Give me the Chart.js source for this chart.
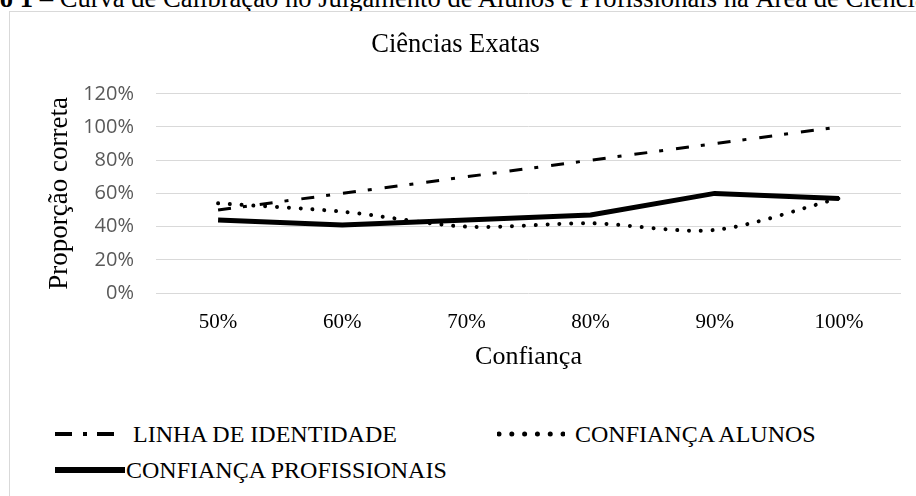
<!DOCTYPE html>
<html lang="pt">
<head>
    <meta charset="UTF-8">
    <title>Ciências Exatas</title>
    <script src="https://cdn.jsdelivr.net/npm/chart.js"></script>
    <style>
        html, body { margin: 0; padding: 0; background: #fff; width: 916px; height: 496px; overflow: hidden; }
        #caption {
            position: absolute; left: -74px; top: -15px; white-space: nowrap;
            font-family: "Liberation Serif", serif; font-size: 26.6px; line-height: 27px; color: #000;
        }
        #frame {
            position: absolute; left: 9px; top: 11px; width: 930px; height: 500px;
            border: 1px solid #d9d9d9; background: #fff;
        }
        #chart { position: absolute; left: 0; top: 0; }
        .legend-item {
            position: absolute; display: flex; align-items: center; white-space: nowrap;
            font-family: "Liberation Serif", serif; font-size: 24px; color: #000;
        }
        .legend-item svg { display: block; }
    </style>
</head>
<body>
    <div id="caption"><b>Gráfico 1</b> – Curva de Calibração no Julgamento de Alunos e Profissionais na Área de Ciências Exatas</div>
    <div id="frame">
        <canvas id="chart" width="906" height="370"></canvas>
        <div id="legend"></div>
    </div>

    <script>
        // chart values
        const confianca = ['50%', '60%', '70%', '80%', '90%', '100%'];
        const linhaIdentidade = [50, 60, 70, 80, 90, 100];
        const confiancaAlunos = [54, 49, 40, 42, 38, 57];
        const confiancaProfissionais = [44, 41, 44, 47, 60, 57];
        const yTicks = [0, 20, 40, 60, 80, 100, 120];

        const datasets = [
            {
                label: 'LINHA DE IDENTIDADE',
                data: linhaIdentidade,
                borderColor: '#000',
                borderWidth: 3,
                borderDash: [13, 12, 4, 13],
                pointRadius: 0,
                tension: 0
            },
            {
                label: 'CONFIANÇA ALUNOS',
                data: confiancaAlunos,
                borderColor: '#000',
                borderWidth: 4,
                borderDash: [0.01, 11.8],
                borderCapStyle: 'round',
                pointRadius: 0,
                tension: 0.3
            },
            {
                label: 'CONFIANÇA PROFISSIONAIS',
                data: confiancaProfissionais,
                borderColor: '#000',
                borderWidth: 5,
                borderJoinStyle: 'round',
                pointRadius: 0,
                tension: 0
            }
        ];

        const serif = 'Liberation Serif';

        const chart = new Chart(document.getElementById('chart'), {
            type: 'line',
            data: { labels: confianca, datasets: datasets },
            options: {
                responsive: false,
                animation: false,
                devicePixelRatio: 1,
                layout: { padding: { left: 0, right: 15, top: 0, bottom: 0 } },
                plugins: {
                    legend: { display: false },
                    tooltip: { enabled: false },
                    title: {
                        display: true,
                        text: 'Ciências Exatas',
                        color: '#000',
                        font: { family: serif, size: 26.5, weight: 'normal' },
                        padding: { top: 17, bottom: 33 }
                    }
                },
                scales: {
                    x: {
                        offset: true,
                        afterFit: (scale) => { scale.height = 89; },
                        grid: { display: false, drawTicks: false },
                        border: { display: false },
                        ticks: { color: '#000', font: { family: serif, size: 21 }, padding: 17 },
                        title: {
                            display: true,
                            text: 'Confiança',
                            color: '#000',
                            font: { family: serif, size: 26 },
                            padding: { top: 0, bottom: 9 }
                        }
                    },
                    y: {
                        min: 0,
                        max: 120,
                        afterBuildTicks: (scale) => { scale.ticks = yTicks.map(v => ({ value: v })); },
                        afterFit: (scale) => { scale.width = 146; },
                        grid: { color: '#d9d9d9', lineWidth: 1, drawTicks: false },
                        border: { display: false },
                        ticks: {
                            color: '#595959',
                            font: { family: 'Open Sans', size: 20 },
                            padding: 22,
                            callback: (v) => v + '%'
                        },
                        title: {
                            display: true,
                            text: 'Proporção correta',
                            color: '#000',
                            font: { family: serif, size: 27 },
                            padding: { top: 34, bottom: 0 }
                        }
                    }
                }
            }
        });

        // legend built from the datasets, laid out like the original two-column legend
        const legendSpots = [
            { left: 45, top: 407, sample: 70, gap: 8, dash: '17 11 4 10' },
            { left: 487, top: 407, sample: 68, gap: 10, dash: '0.01 12.8' },
            { left: 45, top: 443, sample: 70, gap: 1, dash: 'none' }
        ];
        const legend = document.getElementById('legend');
        chart.data.datasets.forEach((ds, i) => {
            const spot = legendSpots[i];
            const item = document.createElement('div');
            item.className = 'legend-item';
            item.style.left = spot.left + 'px';
            item.style.top = spot.top + 'px';
            item.style.height = '30px';
            const cap = ds.borderCapStyle || 'butt';
            item.innerHTML =
                `<svg width="${spot.sample}" height="10"><line x1="${cap === 'round' ? 2 : 0}" y1="5" x2="${spot.sample}" y2="5" ` +
                `stroke="#000" stroke-width="${ds.borderWidth + 1}" stroke-dasharray="${spot.dash}" stroke-linecap="${cap}"/></svg>` +
                `<span style="margin-left:${spot.gap}px">${ds.label}</span>`;
            legend.appendChild(item);
        });
    </script>
</body>
</html>
